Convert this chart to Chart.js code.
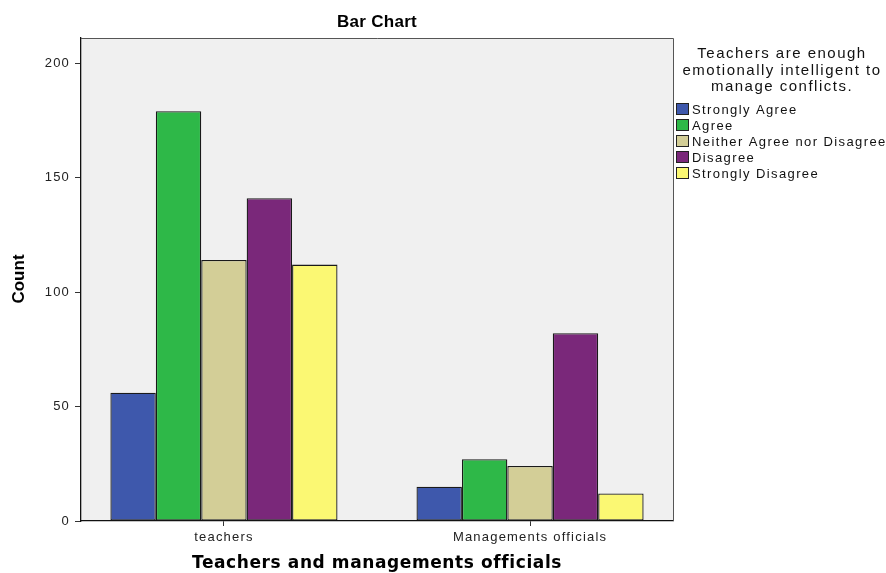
<!DOCTYPE html>
<html>
<head>
<meta charset="utf-8">
<script src="https://cdn.jsdelivr.net/npm/chart.js@4"></script>
<style>
  html, body { margin: 0; padding: 0; background: #fff; }
  #wrap { width: 886px; height: 573px; }
</style>
</head>
<body>
<div id="wrap"><canvas id="chart" width="886" height="573"></canvas></div>
<script>
// data
const groups = ["teachers", "Managements officials"];
const responses = ["Strongly Agree", "Agree", "Neither Agree nor Disagree", "Disagree", "Strongly Disagree"];
const stronglyAgree = [56, 15];
const agree = [179, 27];
const neither = [114, 24];
const disagree = [141, 82];
const stronglyDisagree = [112, 12];
const yTicks = [0, 50, 100, 150, 200];

const barColors = ["#3E58AC", "#2EB848", "#D3CE97", "#7A287A", "#FBF873"];
const chartTitle = "Bar Chart";
const xTitle = "Teachers and managements officials";
const yTitle = "Count";
const legendTitle = ["Teachers are enough", "emotionally intelligent to", "manage conflicts."];

const seriesValues = [stronglyAgree, agree, neither, disagree, stronglyDisagree];
const FONT = "Arial, 'Liberation Sans', sans-serif";
const WIDE = "'DejaVu Sans', Verdana, sans-serif";

const spssLook = {
  id: "spssLook",
  beforeLayout(chart) {
    chart.ctx.letterSpacing = "1.2px";
  },
  beforeDraw(chart) {
    const { ctx, chartArea: a } = chart;
    ctx.save();
    ctx.fillStyle = "#fff";
    ctx.fillRect(0, 0, chart.width, chart.height);
    ctx.fillStyle = "#F0F0F0";
    ctx.fillRect(a.left, a.top, a.right - a.left, a.bottom - a.top);
    ctx.restore();
    chart.ctx.letterSpacing = "1.2px";
  },
  afterDraw(chart) {
    const { ctx, chartArea: a } = chart;
    ctx.save();
    // frame
    ctx.strokeStyle = "#555";
    ctx.lineWidth = 1;
    ctx.beginPath();
    ctx.moveTo(a.left, a.top + 0.5);
    ctx.lineTo(a.right + 0.5, a.top + 0.5);
    ctx.lineTo(a.right + 0.5, a.bottom);
    ctx.stroke();

    const cx = (a.left + a.right) / 2;
    ctx.fillStyle = "#000";
    ctx.textAlign = "center";
    ctx.textBaseline = "middle";

    ctx.letterSpacing = "0.3px";
    ctx.font = "bold 17px " + FONT;
    ctx.fillText(chartTitle, cx, 22);

    ctx.letterSpacing = "0.6px";
    ctx.font = "bold 17px " + WIDE;
    ctx.fillText(xTitle, cx, 564);

    ctx.save();
    ctx.translate(19, 279);
    ctx.rotate(-Math.PI / 2);
    ctx.letterSpacing = "0px";
    ctx.font = "bold 17px " + FONT;
    ctx.fillText(yTitle, 0, 0);
    ctx.restore();

    // legend
    ctx.fillStyle = "#111";
    ctx.letterSpacing = "1.5px";
    ctx.font = "15px " + FONT;
    legendTitle.forEach((line, i) => ctx.fillText(line, 782, 54 + i * 16.5));

    ctx.textAlign = "left";
    ctx.letterSpacing = "1.4px";
    ctx.font = "13px " + FONT;
    chart.data.datasets.forEach((ds, i) => {
      const y = 109 + i * 16;
      ctx.fillStyle = ds.backgroundColor;
      ctx.fillRect(676, y - 6, 13, 12);
      ctx.strokeStyle = "#222";
      ctx.strokeRect(676.5, y - 5.5, 12, 11);
      ctx.fillStyle = "#111";
      ctx.fillText(ds.label, 692, y + 1);
    });
    ctx.restore();
  }
};

new Chart(document.getElementById("chart"), {
  type: "bar",
  data: {
    datasets: responses.map((name, i) => ({
      label: name,
      data: seriesValues[i].map((v, g) => ({ x: g, y: v })),
      backgroundColor: barColors[i],
      borderColor: "#1a1a1a",
      borderWidth: 1.3,
      borderSkipped: false,
      categoryPercentage: 0.742,
      barPercentage: 1
    }))
  },
  options: {
    responsive: false,
    devicePixelRatio: 1,
    animation: false,
    layout: { padding: { top: 38, right: 213, bottom: 0, left: 0 } },
    plugins: {
      legend: { display: false },
      title: { display: false },
      tooltip: { enabled: false }
    },
    scales: {
      x: {
        type: "linear",
        min: -0.467,
        max: 1.467,
        offset: false,
        afterFit(scale) { scale.height = 52; },
        afterBuildTicks(scale) {
          scale.ticks = groups.map((g, i) => ({ value: i }));
        },
        grid: {
          display: true,
          offset: false,
          drawOnChartArea: false,
          drawTicks: true,
          tickLength: 5,
          tickColor: "#333"
        },
        border: { display: true, color: "#111", width: 1.3 },
        ticks: {
          color: "#222",
          padding: 4,
          font: { family: FONT, size: 13 },
          callback: v => groups[v]
        }
      },
      y: {
        min: 0,
        max: 211,
        afterFit(scale) { scale.width = 81; },
        afterBuildTicks(scale) {
          scale.ticks = yTicks.map(v => ({ value: v }));
        },
        grid: {
          display: true,
          drawOnChartArea: false,
          drawTicks: true,
          tickLength: 6,
          tickColor: "#333"
        },
        border: { display: true, color: "#111", width: 1.3 },
        ticks: {
          color: "#222",
          padding: 5,
          font: { family: FONT, size: 13 }
        }
      }
    }
  },
  plugins: [spssLook]
});
</script>
</body>
</html>
